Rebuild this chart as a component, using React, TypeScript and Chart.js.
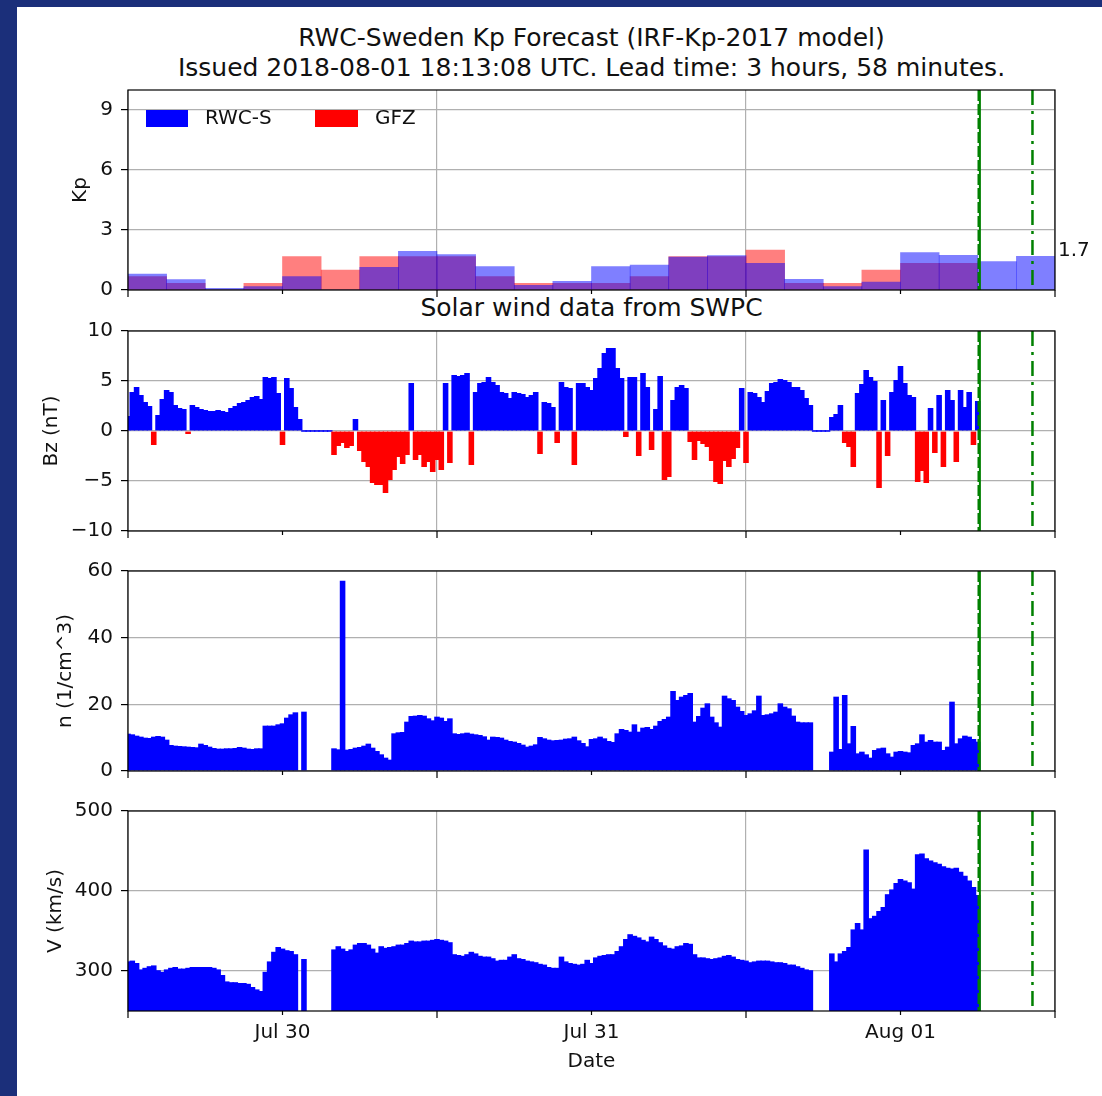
import React, { useEffect, useRef } from 'react';
import { Chart, registerables } from 'chart.js';

Chart.register(...registerables);

// ---------- style constants ----------
const FONT = '"DejaVu Sans", "Liberation Sans", sans-serif';
const TEXT = '#111111';
const GRID = '#b0b0b0';
const BLUE = '#0000ff';
const RED = '#ff0000';
const GREEN = '#008000';
const NAVY = '#1b2f7a';

// ---------- time axis (hours since 2018-07-29 12:00) ----------
const X_MIN = 0;
const X_MAX = 72;
const NOON_TICKS = [0, 24, 48, 72];
const DATE_TICKS = [12, 36, 60];
const DATE_LABELS = ['Jul 30', 'Jul 31', 'Aug 01'];
const ISSUE_HOUR = 66.12; // green dashed line
const TARGET_HOUR = 70.25; // green dash-dot line (lead time 3 h 58 min)

// ---------- Kp (3-hour bins) ----------
const KP_BIN_HOURS = 3;
const kpRwc = [0.8, 0.52, 0.08, 0.17, 0.67, 0, 1.13, 1.93, 1.77, 1.17, 0.23, 0.43,
  1.17, 1.25, 1.65, 1.72, 1.33, 0.53, 0.17, 0.4, 1.87, 1.73, 1.42, 1.68];
const kpGfz = [0.67, 0.33, 0, 0.33, 1.67, 1.0, 1.67, 1.67, 1.67, 0.67, 0.33, 0.33,
  0.33, 0.67, 1.67, 1.67, 2.0, 0.33, 0.33, 1.0, 1.33, 1.33, null, null];
const kpTicks = [0, 3, 6, 9];

// ---------- solar wind, one sample every 20 minutes ----------
const SAMPLE_STEP_H = 1 / 3;
const bzValues = [
  1.5, 3.9, 4.4, 3.6, 2.9, 2.5, -1.4, 1.6, 3.2, 4.1,
  3.9, 2.6, 2.3, 2.2, -0.3, 2.6, 2.4, 2.2, 2.1, 2.0,
  2.0, 2.1, 2.0, 1.9, 2.3, 2.5, 2.8, 2.9, 3.1, 3.4,
  3.5, 3.2, 5.4, 5.3, 5.4, 3.8, -1.4, 5.3, 4.3, 2.4,
  1.2, 0, 0, 0, 0, 0, 0, 0, -2.4, -1.5,
  -1.2, -1.7, -1.5, 1.2, -2.0, -3.1, -3.6, -5.2, -5.4, -5.4,
  -6.2, -4.9, -3.9, -2.6, -3.3, -2.4, 4.8, -2.9, -2.4, -3.6,
  -3.1, -4.1, -2.9, -3.9, 4.8, -3.2, 5.6, 5.5, 5.6, 5.8,
  -3.4, 3.9, 4.8, 4.9, 5.4, 4.9, 4.6, 3.9, 3.8, 3.3,
  3.9, 3.8, 3.7, 3.4, 3.6, 3.9, -2.3, 2.9, 2.8, 2.4,
  -1.2, 4.9, 4.4, 4.3, -3.4, 4.8, 4.8, 4.4, 4.1, 5.3,
  6.3, 7.8, 8.3, 8.3, 6.3, 5.3, -0.6, 5.4, 5.4, -2.5,
  5.8, 4.4, -1.9, 2.2, 5.5, -4.9, -4.6, 3.1, 4.4, 4.6,
  4.3, -1.1, -2.9, -1.0, -1.3, -1.6, -3.0, -5.1, -5.3, -3.0,
  -3.6, -2.8, -1.7, 4.3, -3.2, 3.9, 3.8, 3.4, 2.9, 4.0,
  4.8, 4.9, 5.2, 5.1, 4.9, 4.4, 4.4, 4.1, 3.3, 2.6,
  0, 0, 0, 0, 1.4, 1.7, 2.6, -1.2, -1.6, -3.6,
  3.8, 4.7, 6.1, 5.4, 5.0, -5.7, 3.1, -2.5, 3.9, 5.1,
  6.5, 4.8, 3.6, 3.4, -5.1, -4.0, -5.2, 2.3, -2.2, 3.6,
  -3.6, 4.1, 3.1, -3.1, 4.1, 2.4, 3.9, -1.4, 3.0,
];
const nValues = [
  11.2, 11.0, 10.6, 10.3, 10.0, 9.9, 10.3, 10.5, 10.3, 9.4,
  7.8, 7.6, 7.5, 7.4, 7.3, 7.2, 7.1, 8.2, 7.8, 7.3,
  6.9, 6.7, 6.7, 6.8, 6.8, 6.9, 7.2, 7.0, 6.7, 6.6,
  6.8, 6.8, 13.6, 13.6, 13.6, 14.0, 14.3, 16.0, 17.0, 17.6,
  null, 17.8, null, null, null, null, null, null, 6.8, 6.5,
  57.1, 6.4, 6.6, 7.0, 7.2, 7.6, 8.2, 7.0, 6.0, 5.0,
  4.0, 3.4, 11.3, 11.6, 11.7, 14.8, 16.5, 16.6, 16.8, 16.6,
  15.8, 15.2, 16.3, 16.0, 15.0, 15.8, 11.3, 11.1, 11.3, 11.5,
  11.2, 11.0, 10.8, 10.4, 9.4, 10.3, 10.2, 10.0, 9.4, 9.0,
  8.8, 8.4, 7.9, 7.3, 7.6, 8.0, 10.2, 9.8, 9.4, 9.2,
  9.3, 9.4, 9.7, 9.8, 10.3, 9.2, 8.4, 7.4, 9.6, 9.8,
  10.3, 9.8, 9.0, 8.7, 11.3, 12.6, 12.3, 11.8, 14.0, 11.8,
  13.0, 13.2, 12.6, 13.6, 15.0, 15.6, 16.3, 24.0, 21.3, 22.3,
  22.8, 23.4, 14.8, 16.5, 19.0, 20.3, 16.3, 14.6, 13.3, 22.6,
  21.8, 21.3, 19.3, 18.0, 16.8, 17.3, 18.2, 22.6, 16.8, 17.0,
  17.3, 17.8, 20.3, 19.3, 18.8, 16.6, 14.8, 14.6, 14.6, 14.6,
  null, null, null, null, 5.8, 22.3, 6.6, 22.8, 8.3, 13.5,
  5.3, 5.8, 5.0, 4.0, 6.3, 6.8, 7.0, 5.3, 4.3, 5.8,
  6.0, 5.8, 5.6, 7.8, 8.3, 11.0, 8.8, 9.3, 8.8, 8.8,
  6.3, 7.3, 20.8, 8.3, 9.8, 10.6, 10.3, 9.6, 8.8,
];
const vValues = [
  312, 313, 310, 302, 304, 306, 307, 301, 299, 302,
  304, 305, 303, 303, 304, 305, 305, 305, 305, 305,
  304, 302, 295, 287, 286, 286, 285, 285, 284, 280,
  277, 275, 299, 312, 324, 330, 328, 326, 325, 321,
  null, 315, null, null, null, null, null, null, 327, 331,
  328, 325, 327, 333, 335, 335, 333, 328, 323, 331,
  329, 330, 331, 333, 333, 335, 338, 337, 337, 338,
  338, 339, 340, 339, 338, 336, 321, 320, 319, 321,
  324, 322, 319, 318, 318, 316, 313, 314, 314, 318,
  321, 316, 315, 313, 312, 311, 309, 308, 305, 304,
  304, 318, 312, 310, 309, 308, 309, 314, 310, 317,
  319, 320, 321, 321, 325, 331, 340, 346, 344, 342,
  339, 337, 343, 340, 336, 332, 329, 328, 331, 332,
  335, 334, 321, 317, 317, 316, 315, 316, 317, 319,
  320, 318, 315, 314, 313, 311, 312, 313, 313, 313,
  312, 311, 311, 310, 308, 308, 306, 304, 302, 301,
  null, null, null, null, 322, 312, 322, 325, 330, 352,
  360, 352, 452, 366, 369, 375, 380, 396, 402, 410,
  415, 413, 411, 403, 446, 447, 441, 438, 436, 434,
  431, 429, 428, 429, 424, 419, 413, 405, 395,
];
const bzTicks = [-10, -5, 0, 5, 10];
const nTicks = [0, 20, 40, 60];
const vTicks = [300, 400, 500];

// ---------- layout ----------
const CANVAS_W = 1102;
const AXIS_LEFT = 128;
const PAD_RIGHT = 47;
const PAD_TOP = 30;

const fmt = (v: number) => (v < 0 ? '\u2212' + Math.abs(v) : String(v));

function vline(ctx: CanvasRenderingContext2D, x: number, top: number, bottom: number, dash: number[], w: number) {
  ctx.beginPath();
  ctx.setLineDash(dash);
  ctx.lineWidth = w;
  ctx.strokeStyle = GREEN;
  ctx.moveTo(x, top);
  ctx.lineTo(x, bottom);
  ctx.stroke();
}

const framePlugin = {
  id: 'frame',
  afterDraw(chart: any) {
    const { ctx, chartArea: a, scales } = chart;
    const xs = scales.x;
    ctx.save();
    const xi = xs.getPixelForValue(ISSUE_HOUR);
    vline(ctx, xi + 0.6, a.top, a.bottom, [], 2);
    vline(ctx, xi - 0.8, a.top, a.bottom, [11, 3], 2);
    vline(ctx, xs.getPixelForValue(TARGET_HOUR), a.top, a.bottom, [15, 6, 3, 6], 2.5);
    ctx.setLineDash([]);
    ctx.strokeStyle = '#000';
    ctx.lineWidth = 1.2;
    ctx.strokeRect(a.left, a.top, a.right - a.left, a.bottom - a.top);
    const tick = (v: number, len: number) => {
      const x = xs.getPixelForValue(v);
      ctx.beginPath();
      ctx.moveTo(x, a.bottom);
      ctx.lineTo(x, a.bottom + len);
      ctx.stroke();
    };
    NOON_TICKS.forEach((v) => tick(v, 7));
    DATE_TICKS.forEach((v) => tick(v, 4));
    ctx.restore();
  },
};

const kpExtras = {
  id: 'kpExtras',
  afterDraw(chart: any) {
    const { ctx, chartArea: a, scales } = chart;
    const ds = chart.data.datasets;
    ctx.save();
    ctx.font = `20px ${FONT}`;
    ctx.textBaseline = 'middle';
    ctx.fillStyle = BLUE;
    ctx.fillRect(a.left + 18, a.top + 20, 42, 17);
    ctx.fillStyle = TEXT;
    ctx.fillText(ds[0].label, a.left + 77, a.top + 28.5);
    ctx.fillStyle = RED;
    ctx.fillRect(a.left + 187, a.top + 20, 43, 17);
    ctx.fillStyle = TEXT;
    ctx.fillText(ds[1].label, a.left + 247, a.top + 28.5);
    const last = kpRwc[kpRwc.length - 1];
    ctx.textBaseline = 'alphabetic';
    ctx.fillText(last.toFixed(1), a.right + 3, scales.y.getPixelForValue(last));
    ctx.restore();
  },
};

function baseOptions(p: {
  yMin: number; yMax: number; yTicks: number[]; yTitle: string; yTitlePad: number;
  xAxisH: number; showDates: boolean;
}) {
  const font = { family: FONT, size: 20, lineHeight: 1.2 };
  return {
    responsive: false,
    animation: false,
    devicePixelRatio: 1,
    events: [],
    layout: { padding: { top: PAD_TOP, left: 0, right: PAD_RIGHT, bottom: 0 } },
    plugins: { legend: { display: false }, tooltip: { enabled: false }, title: { display: false } },
    scales: {
      x: {
        type: 'linear',
        min: X_MIN,
        max: X_MAX,
        offset: false,
        z: 1,
        afterBuildTicks: (s: any) => {
          s.ticks = [0, 12, 24, 36, 48, 60, 72].map((value) => ({ value }));
        },
        afterFit: (s: any) => { s.height = p.xAxisH; },
        grid: {
          offset: false,
          color: (c: any) => (c.tick && NOON_TICKS.includes(c.tick.value) ? GRID : 'rgba(0,0,0,0)'),
          lineWidth: 1.2,
          drawTicks: false,
        },
        border: { display: false },
        ticks: {
          display: p.showDates,
          autoSkip: false,
          maxRotation: 0,
          padding: 10,
          color: TEXT,
          font,
          callback: (v: number) => {
            const k = DATE_TICKS.indexOf(v);
            return k >= 0 ? DATE_LABELS[k] : '';
          },
        },
        title: p.showDates
          ? { display: true, text: 'Date', color: TEXT, font, padding: { top: 0, bottom: 7 } }
          : { display: false },
      },
      y: {
        min: p.yMin,
        max: p.yMax,
        z: 1,
        afterBuildTicks: (s: any) => { s.ticks = p.yTicks.map((value) => ({ value })); },
        afterFit: (s: any) => { s.width = AXIS_LEFT; },
        grid: { color: GRID, lineWidth: 1.2, drawTicks: true, tickLength: 7, tickColor: '#000', tickWidth: 1.2 },
        border: { display: false },
        ticks: { padding: 8, color: TEXT, font, callback: (v: number) => fmt(v) },
        title: { display: true, text: p.yTitle, color: TEXT, font, padding: { top: p.yTitlePad, bottom: 0 } },
      },
    },
  };
}

function denseData(values: (number | null)[]) {
  return values.map((y, i) => ({ x: i * SAMPLE_STEP_H, y }));
}

const denseStyle = { borderWidth: 0, barPercentage: 1.3, categoryPercentage: 1, clip: 0 };

const panels = [
  {
    key: 'kp',
    top: 90 - PAD_TOP,
    height: PAD_TOP + 200 + 21,
    build: () => ({
      type: 'bar',
      data: {
        datasets: [
          {
            label: 'RWC-S',
            data: kpRwc.map((y, i) => ({ x: KP_BIN_HOURS * (i + 0.5), y })),
            backgroundColor: 'rgba(0,0,255,0.5)',
            borderWidth: 0,
            grouped: false,
            barPercentage: 1,
            categoryPercentage: 1,
            order: 0,
            clip: 0,
          },
          {
            label: 'GFZ',
            data: kpGfz.map((y, i) => ({ x: KP_BIN_HOURS * (i + 0.5), y })),
            backgroundColor: 'rgba(255,0,0,0.5)',
            borderWidth: 0,
            grouped: false,
            barPercentage: 1,
            categoryPercentage: 1,
            order: 1,
            clip: 0,
          },
        ],
      },
      options: baseOptions({ yMin: 0, yMax: 10, yTicks: kpTicks, yTitle: 'Kp', yTitlePad: 69, xAxisH: 21, showDates: false }),
      plugins: [framePlugin, kpExtras],
    }),
  },
  {
    key: 'bz',
    top: 331 - PAD_TOP,
    height: PAD_TOP + 200 + 21,
    build: () => ({
      type: 'bar',
      data: {
        datasets: [
          {
            label: 'Bz',
            data: denseData(bzValues),
            backgroundColor: bzValues.map((v) => (v < 0 ? RED : BLUE)),
            minBarLength: 1.5,
            ...denseStyle,
          },
        ],
      },
      options: baseOptions({ yMin: -10, yMax: 10, yTicks: bzTicks, yTitle: 'Bz (nT)', yTitlePad: 40, xAxisH: 21, showDates: false }),
      plugins: [framePlugin],
    }),
  },
  {
    key: 'n',
    top: 571 - PAD_TOP,
    height: PAD_TOP + 200 + 21,
    build: () => ({
      type: 'bar',
      data: { datasets: [{ label: 'n', data: denseData(nValues), backgroundColor: BLUE, ...denseStyle }] },
      options: baseOptions({ yMin: 0, yMax: 60, yTicks: nTicks, yTitle: 'n (1/cm^3)', yTitlePad: 54, xAxisH: 21, showDates: false }),
      plugins: [framePlugin],
    }),
  },
  {
    key: 'v',
    top: 811 - PAD_TOP,
    height: PAD_TOP + 200 + 70,
    build: () => ({
      type: 'bar',
      data: { datasets: [{ label: 'V', data: denseData(vValues), backgroundColor: BLUE, base: 250, ...denseStyle }] },
      options: baseOptions({ yMin: 250, yMax: 500, yTicks: vTicks, yTitle: 'V (km/s)', yTitlePad: 44, xAxisH: 70, showDates: true }),
      plugins: [framePlugin],
    }),
  },
];

function Panel({ top, height, build }: { top: number; height: number; build: () => any }) {
  const ref = useRef<HTMLCanvasElement>(null);
  useEffect(() => {
    const chart = new Chart(ref.current as HTMLCanvasElement, build());
    return () => chart.destroy();
  }, []);
  return (
    <canvas
      ref={ref}
      width={CANVAS_W}
      height={height}
      style={{ position: 'absolute', left: 0, top, width: CANVAS_W, height, display: 'block' }}
    />
  );
}

export default function App() {
  const titleStyle: React.CSSProperties = {
    position: 'absolute',
    left: AXIS_LEFT,
    width: 1055 - AXIS_LEFT,
    textAlign: 'center',
    fontFamily: FONT,
    fontSize: 25,
    lineHeight: '30px',
    color: TEXT,
    whiteSpace: 'nowrap',
  };
  return (
    <div style={{ position: 'absolute', left: 0, top: 0, width: 1102, height: 1096, background: NAVY, overflow: 'hidden' }}>
      <div style={{ position: 'absolute', left: 17, top: 7, width: 1102 - 17, height: 1096 - 7, background: '#ffffff' }} />
      <div style={{ ...titleStyle, top: 23 }}>RWC-Sweden Kp Forecast (IRF-Kp-2017 model)</div>
      <div style={{ ...titleStyle, top: 53 }}>Issued 2018-08-01 18:13:08 UTC. Lead time: 3 hours, 58 minutes.</div>
      <div style={{ ...titleStyle, top: 293 }}>Solar wind data from SWPC</div>
      {panels.map((p) => (
        <Panel key={p.key} top={p.top} height={p.height} build={p.build} />
      ))}
    </div>
  );
}
